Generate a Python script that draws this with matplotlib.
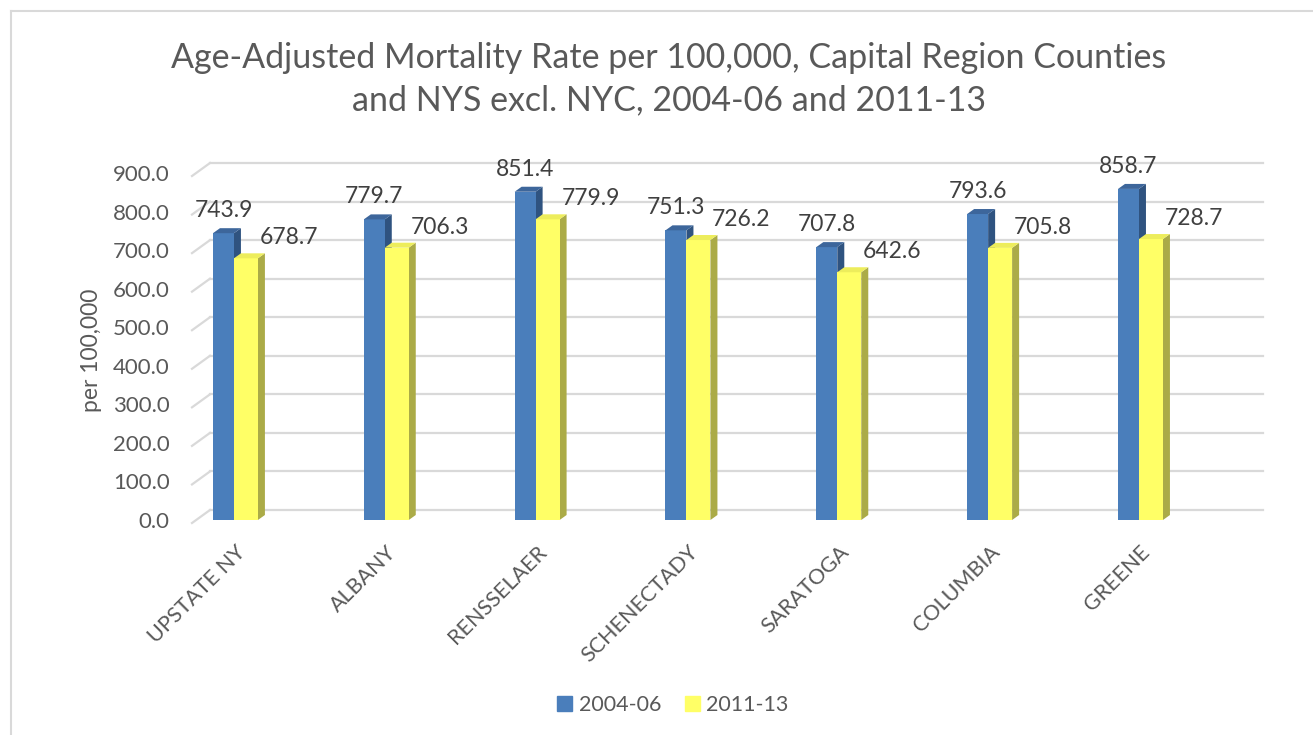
import numpy as np
import matplotlib
matplotlib.use("Agg")
import matplotlib.pyplot as plt
from matplotlib.patches import Patch
from matplotlib.lines import Line2D

# data
counties = ["UPSTATE NY", "ALBANY", "RENSSELAER", "SCHENECTADY", "SARATOGA", "COLUMBIA", "GREENE"]
rate_0406 = [743.9, 779.7, 851.4, 751.3, 707.8, 793.6, 858.7]
rate_1113 = [678.7, 706.3, 779.9, 726.2, 642.6, 705.8, 728.7]
series_names = ["2004-06", "2011-13"]
yticks = np.arange(0, 901, 100)

plt.rcParams['font.family'] = ['Lato', 'DejaVu Sans']

W, H = 1313, 735
fig = plt.figure(figsize=(W / 100, H / 100), dpi=100)
fig.patch.set_facecolor("white")

# axes = bar plane (pixel box measured on the reference)
L, R, B, T = 192, 1245, 520, 173
ax = fig.add_axes([L / W, 1 - B / H, (R - L) / W, (B - T) / H])
x0, x1 = -0.285, 6.696
ax.set_xlim(x0, x1)
ax.set_ylim(0, 900)
pxx = (R - L) / (x1 - x0)   # px per x unit
pxy = (B - T) / 900         # px per y unit

grey = "#595959"
grid_c = "#D9D9D9"

# back wall gridlines and left-side diagonals
wdx, wdy, fdy = 18 / pxx, 10 / pxy, -3 / pxy
for v in yticks:
    ax.plot([x0 + wdx, x1 + wdx], [v + wdy, v + wdy], color=grid_c, lw=1.6,
            clip_on=False, zorder=0)
    ax.plot([x0, x0 + wdx], [v + fdy, v + wdy], color=grid_c, lw=1.6,
            clip_on=False, zorder=0)

# 3d-ish bars
x = np.arange(len(counties))
ddx, ddy = 7 / pxx, 5 / pxy
bars = [
    (x - 0.146, 0.139, rate_0406, "#4A7EBB", "#2F5380", "#3D669B"),
    (x - 0.007, 0.159, rate_1113, "#FFFF66", "#ABAB47", "#EDED5C"),
]
for k, (left, w, vals, front, side, top) in enumerate(bars):
    z = 2 + k * 2
    ax.bar(left, vals, width=w, align='edge', color=front, zorder=z)
    for xl, v in zip(left, vals):
        xr = xl + w
        ax.fill([xr, xr, xr + ddx, xr + ddx], [0, v, v + ddy, ddy],
                color=side, lw=0, zorder=z - 0.5)
        ax.fill([xl, xr, xr + ddx, xl + ddx], [v, v, v + ddy, v + ddy],
                color=top, lw=0, zorder=z + 0.5)

# data labels
for xl, v in zip(bars[0][0], rate_0406):
    ax.annotate(f"{v:.1f}", (xl + 0.139 / 2, v), xytext=(0, 16),
                textcoords='offset pixels', ha='center', va='baseline',
                fontsize=16.5, color="#404040", zorder=10)
for xl, v in zip(bars[1][0], rate_1113):
    ax.annotate(f"{v:.1f}", (xl + 0.159 / 2, v), xytext=(43, 14),
                textcoords='offset pixels', ha='center', va='baseline',
                fontsize=16.5, color="#404040", zorder=10)

# axes styling
for s in ax.spines.values():
    s.set_visible(False)
ax.set_facecolor("none")
ax.set_yticks(yticks)
ax.set_yticklabels([f"{v:.1f}" for v in yticks], fontsize=16, color=grey)
ax.tick_params(axis='y', length=0, pad=16)
ax.set_xticks(x)
ax.set_xticklabels(counties, rotation=45, ha='right', va='top',
                   rotation_mode='anchor', fontsize=15.5, color=grey)
ax.tick_params(axis='x', length=0, pad=16)

fig.text(92 / W, 1 - 350 / H, "per 100,000", rotation=90, ha='center',
         va='center', fontsize=16.5, color=grey)

fig.text(669 / W, 1 - 79 / H,
         "Age-Adjusted Mortality Rate per 100,000, Capital Region Counties\n"
         "and NYS excl. NYC, 2004-06 and 2011-13",
         ha='center', va='center', fontsize=24.5, color=grey, linespacing=1.4)

handles = [Patch(color=bars[0][3]), Patch(color=bars[1][3])]
fig.legend(handles, series_names, loc='center', bbox_to_anchor=(673 / W, 1 - 705 / H),
           ncol=2, frameon=False, fontsize=15.5, labelcolor=grey,
           handlelength=0.7, handleheight=0.7, handletextpad=0.3,
           columnspacing=1.1)

# chart border (left and top visible)
fig.add_artist(Line2D([11 / W, 11 / W], [0, 1 - 11 / H], color=grid_c, lw=1.5,
                      transform=fig.transFigure))
fig.add_artist(Line2D([11 / W, 1], [1 - 11 / H, 1 - 11 / H], color=grid_c, lw=1.5,
                      transform=fig.transFigure))

fig.savefig("out.png", dpi=100)
